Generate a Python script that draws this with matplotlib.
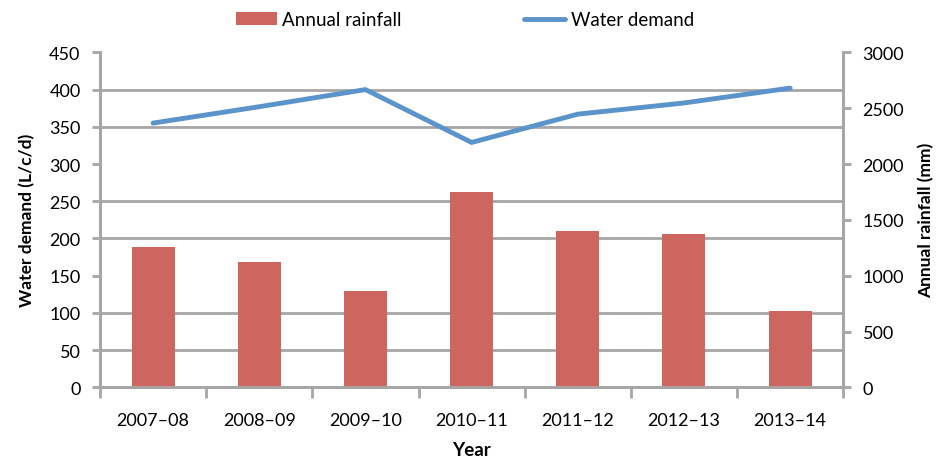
import matplotlib.pyplot as plt
from matplotlib.ticker import MultipleLocator, FixedLocator, NullFormatter

plt.rcParams['font.family'] = ['Lato', 'DejaVu Sans']

years = ['2007\u201308', '2008\u201309', '2009\u201310', '2010\u201311',
         '2011\u201312', '2012\u201313', '2013\u201314']
rainfall = [1257, 1122, 862, 1749, 1400, 1373, 683]   # mm, right axis
demand = [355, 377, 400, 329, 367, 382, 402]          # L/c/d, left axis

grey = '#A6A6A6'
bar_col = '#CC665F'
line_col = '#5B93CB'

fig = plt.figure(figsize=(9.39, 4.64), dpi=100)
ax1 = fig.add_axes([0.1065, 0.163, 0.7915, 0.722])
ax2 = ax1.twinx()
ax1.set_zorder(ax2.get_zorder() + 1)
ax1.patch.set_visible(False)

x = list(range(len(years)))

# bars on the right axis
ax2.bar(x, rainfall, width=0.405, color=bar_col, zorder=3, label='Annual rainfall')
ax2.set_ylim(0, 3000)
ax2.yaxis.set_major_locator(MultipleLocator(500))
ax2.yaxis.set_minor_locator(MultipleLocator(3000 / 9))
ax2.grid(which='minor', axis='y', color=grey, linewidth=2, zorder=0)
ax2.set_axisbelow(True)
ax2.tick_params(axis='y', which='minor', length=0)
ax2.tick_params(axis='y', which='major', length=6, width=2, color=grey,
                labelsize=13, pad=8)
ax2.set_ylabel('Annual rainfall (mm)', fontsize=12.5, fontweight='bold', labelpad=10)

# line on the left axis
ax1.plot(x, demand, color=line_col, linewidth=3.5, solid_capstyle='round',
         label='Water demand')
ax1.set_ylim(0, 450)
ax1.yaxis.set_major_locator(MultipleLocator(50))
ax1.tick_params(axis='y', length=6, width=2, color=grey, labelsize=13, pad=8)
ax1.set_ylabel('Water demand (L/c/d)', fontsize=12.5, fontweight='bold', labelpad=10)

ax1.set_xlim(-0.5, len(years) - 0.5)
ax1.xaxis.set_major_locator(FixedLocator([i - 0.5 for i in range(len(years) + 1)]))
ax1.xaxis.set_major_formatter(NullFormatter())
ax1.xaxis.set_minor_locator(FixedLocator(x))
ax1.set_xticklabels(years, minor=True)
ax1.tick_params(axis='x', which='major', length=8, width=2, color=grey)
ax1.tick_params(axis='x', which='minor', length=0, labelsize=13, pad=18)
ax1.set_xlabel('Year', fontsize=13.5, fontweight='bold', labelpad=9)

for a in (ax1, ax2):
    a.spines['top'].set_visible(False)
    for s in ('left', 'right', 'bottom'):
        a.spines[s].set_color(grey)
        a.spines[s].set_linewidth(2)

h2, l2 = ax2.get_legend_handles_labels()
h1, l1 = ax1.get_legend_handles_labels()
fig.legend(h2 + h1, l2 + l1, loc='upper center', bbox_to_anchor=(0.495, 1.01),
           ncol=2, frameon=False, fontsize=13.5, handlelength=2.2,
           handletextpad=0.3, columnspacing=6.5)

fig.savefig('out.png', dpi=100)
